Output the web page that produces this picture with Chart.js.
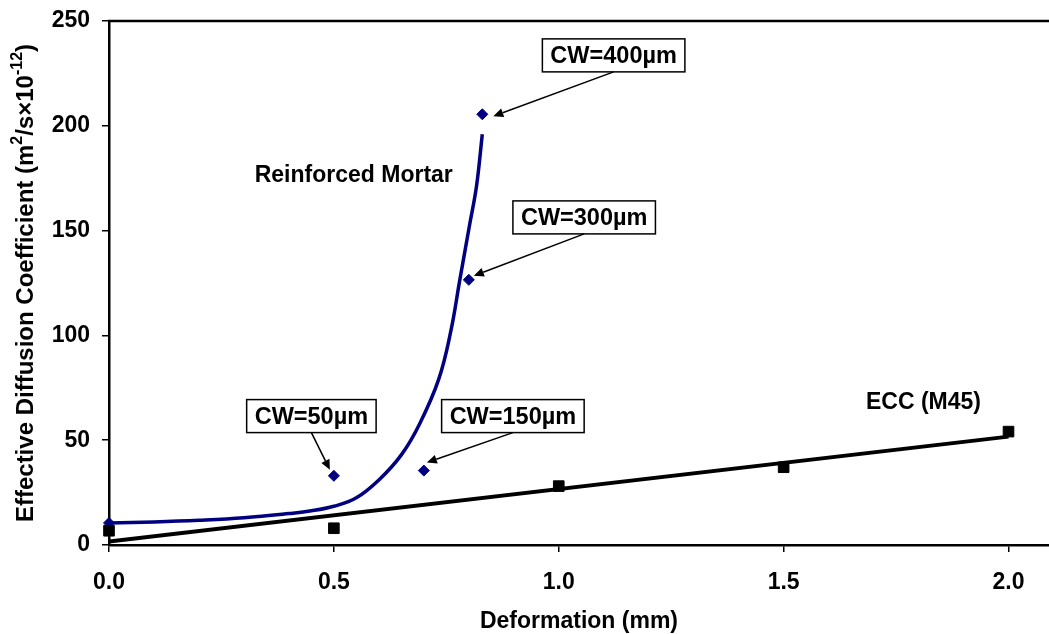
<!DOCTYPE html>
<html>
<head>
<meta charset="utf-8">
<script src="https://cdn.jsdelivr.net/npm/chart.js@4.4.0/dist/chart.umd.min.js"></script>
<style>
  html, body { margin: 0; padding: 0; background: #fff; }
</style>
</head>
<body>
<canvas id="chart" width="1049" height="634"></canvas>
<script>
// Reinforced mortar measurements (deformation mm, D_eff)
const mortarX = [0, 0.5, 0.7, 0.8, 0.83];
const mortarY = [10.5, 33, 35.5, 126.5, 205.5];

// Smoothed trend through the mortar results
const mortarCurveX = [0, 0.1, 0.2, 0.3, 0.4, 0.45, 0.5, 0.55, 0.6, 0.65, 0.69, 0.733, 0.76, 0.78, 0.802, 0.817, 0.83];
const mortarCurveY = [10.5, 11, 11.8, 13, 15, 16.3, 18.5, 22.5, 31, 43, 57.5, 79, 102, 126.5, 153, 171, 196];

// ECC (M45) measurements and linear trend
const eccX = [0, 0.5, 1.0, 1.5, 2.0];
const eccY = [6.8, 8.0, 28.1, 37.1, 54.1];
const eccTrendX = [0, 2.0];
const eccTrendY = [1.7, 51.7];

// crack width callouts, each pointing at a mortar point
const crackLabels = ['CW=50µm', 'CW=150µm', 'CW=300µm', 'CW=400µm'];
const crackPointIndex = [1, 2, 3, 4];

const NAVY = '#000080';
const FONT = '"Liberation Sans", Arial, sans-serif';

const pts = (xs, ys) => xs.map((x, i) => ({ x: x, y: ys[i] }));

// where the callout boxes sit (data units) and how far the arrow tip stops from the point (px)
const calloutLayout = [
  { box: [0.45, 61.5], tip: [-4, -6] },
  { box: [0.898, 61.5], tip: [3, -8] },
  { box: [1.0565, 156.3], tip: [5, -4] },
  { box: [1.122, 233.6], tip: [11, 2] }
];

function arrow(ctx, x1, y1, x2, y2) {
  const ang = Math.atan2(y2 - y1, x2 - x1);
  const len = 10, half = 4.5;
  const bx = x2 - len * Math.cos(ang), by = y2 - len * Math.sin(ang);
  ctx.beginPath();
  ctx.moveTo(x1, y1);
  ctx.lineTo(bx, by);
  ctx.stroke();
  ctx.beginPath();
  ctx.moveTo(x2, y2);
  ctx.lineTo(bx + half * Math.sin(ang), by - half * Math.cos(ang));
  ctx.lineTo(bx - half * Math.sin(ang), by + half * Math.cos(ang));
  ctx.closePath();
  ctx.fill();
}

// keep the plot area fixed: no extra room for half-labels at the ends
function noEdgePadding(scale) {
  scale.paddingLeft = 0;
  scale.paddingRight = 0;
  scale.paddingTop = 0;
  scale.paddingBottom = 0;
}

const decorations = {
  id: 'decorations',
  afterDatasetsDraw(chart) {
    const ctx = chart.ctx;
    const xs = chart.scales.x, ys = chart.scales.y;
    const area = chart.chartArea;
    ctx.save();

    // frame line along the top
    ctx.strokeStyle = '#000';
    ctx.lineWidth = 2.5;
    ctx.beginPath();
    ctx.moveTo(area.left - 1, area.top);
    ctx.lineTo(chart.width, area.top);
    ctx.stroke();

    // series names
    ctx.fillStyle = '#000';
    ctx.font = 'bold 23px ' + FONT;
    ctx.textBaseline = 'middle';
    ctx.textAlign = 'left';
    ctx.fillText('Reinforced Mortar', xs.getPixelForValue(0.324), ys.getPixelForValue(176));
    ctx.fillText('ECC (M45)', xs.getPixelForValue(1.683), ys.getPixelForValue(68));

    // crack width callouts
    ctx.font = 'bold 23.5px ' + FONT;
    crackLabels.forEach((txt, i) => {
      const lay = calloutLayout[i];
      const cx = xs.getPixelForValue(lay.box[0]);
      const cy = ys.getPixelForValue(lay.box[1]);
      const w = ctx.measureText(txt).width + 16;
      const h = 33;
      ctx.fillStyle = '#fff';
      ctx.fillRect(cx - w / 2, cy - h / 2, w, h);
      ctx.strokeStyle = '#000';
      ctx.lineWidth = 1.5;
      ctx.strokeRect(cx - w / 2, cy - h / 2, w, h);
      ctx.fillStyle = '#000';
      ctx.textAlign = 'center';
      ctx.fillText(txt, cx, cy + 1);

      const k = crackPointIndex[i];
      const px = xs.getPixelForValue(mortarX[k]) + lay.tip[0];
      const py = ys.getPixelForValue(mortarY[k]) + lay.tip[1];
      ctx.lineWidth = 1.5;
      arrow(ctx, cx, cy + h / 2, px, py);
    });

    // y-axis title with superscripts
    const parts = [
      ['Effective Diffusion Coefficient (m', false],
      ['2', true],
      ['/s×10', false],
      ['-12', true],
      [')', false]
    ];
    const big = 'bold 24px ' + FONT, small = 'bold 16px ' + FONT;
    let total = 0;
    parts.forEach(p => { ctx.font = p[1] ? small : big; total += ctx.measureText(p[0]).width; });
    ctx.translate(26, (area.top + area.bottom) / 2);
    ctx.rotate(-Math.PI / 2);
    ctx.textAlign = 'left';
    let x = -total / 2;
    parts.forEach(p => {
      ctx.font = p[1] ? small : big;
      ctx.fillText(p[0], x, p[1] ? -8 : 0);
      x += ctx.measureText(p[0]).width;
    });
    ctx.restore();
  }
};

new Chart(document.getElementById('chart'), {
  type: 'scatter',
  data: {
    datasets: [
      {
        label: 'ECC trend',
        type: 'line',
        data: pts(eccTrendX, eccTrendY),
        borderColor: '#000',
        borderWidth: 4,
        pointRadius: 0,
        fill: false
      },
      {
        label: 'Reinforced Mortar trend',
        type: 'line',
        data: pts(mortarCurveX, mortarCurveY),
        borderColor: NAVY,
        borderWidth: 3.5,
        pointRadius: 0,
        tension: 0.4,
        fill: false
      },
      {
        label: 'ECC (M45)',
        data: pts(eccX, eccY),
        pointStyle: 'rect',
        pointRadius: 7.5,
        borderWidth: 1,
        backgroundColor: '#000',
        borderColor: '#000',
        clip: false
      },
      {
        label: 'Reinforced Mortar',
        data: pts(mortarX, mortarY),
        pointStyle: 'rectRot',
        pointRadius: 5.5,
        borderWidth: 1,
        backgroundColor: NAVY,
        borderColor: NAVY,
        clip: false
      }
    ]
  },
  options: {
    responsive: false,
    animation: false,
    layout: { autoPadding: false, padding: { top: 21, right: 0, left: 0, bottom: 0 } },
    plugins: {
      legend: { display: false },
      tooltip: { enabled: false }
    },
    scales: {
      x: {
        type: 'linear',
        min: 0,
        max: 2.09,
        afterFit(scale) { scale.height = 89; noEdgePadding(scale); },
        border: { color: '#000', width: 2.5 },
        grid: { drawOnChartArea: false, drawTicks: true, tickLength: 7, color: '#000', lineWidth: 1.5 },
        ticks: {
          stepSize: 0.5,
          includeBounds: false,
          padding: 17,
          color: '#000',
          font: { family: FONT, size: 23, weight: 'bold' },
          callback: v => v.toFixed(1)
        },
        title: {
          display: true,
          text: 'Deformation (mm)',
          color: '#000',
          padding: { top: 0, bottom: 0 },
          font: { family: FONT, size: 23, weight: 'bold', lineHeight: 1.1 }
        }
      },
      y: {
        min: 0,
        max: 250,
        afterFit(scale) { scale.width = 109; noEdgePadding(scale); },
        border: { color: '#000', width: 2.5 },
        grid: { drawOnChartArea: false, drawTicks: true, tickLength: 7, color: '#000', lineWidth: 1.5 },
        ticks: {
          stepSize: 50,
          padding: 12,
          color: '#000',
          font: { family: FONT, size: 23, weight: 'bold' }
        }
      }
    }
  },
  plugins: [decorations]
});
</script>
</body>
</html>
